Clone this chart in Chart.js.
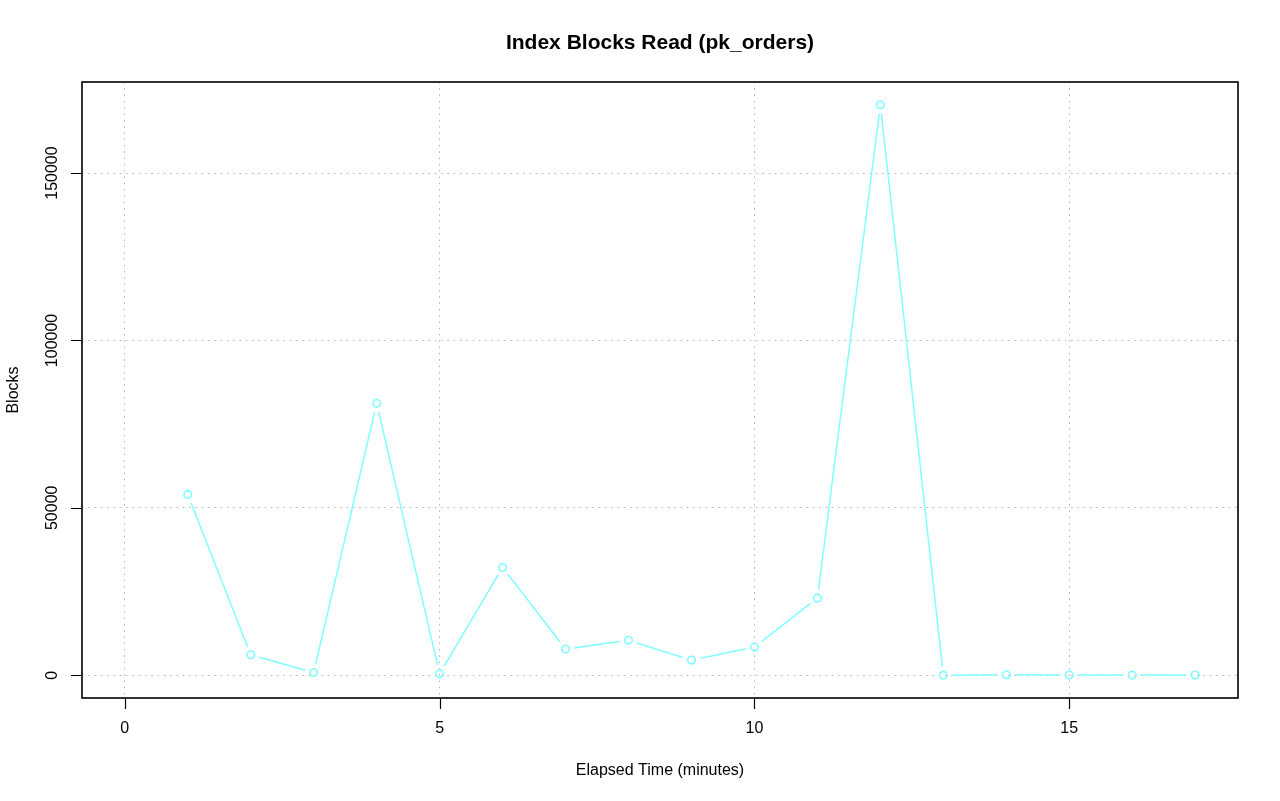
<!DOCTYPE html>
<html>
<head>
<meta charset="utf-8">
<title>Index Blocks Read (pk_orders)</title>
<script src="https://cdn.jsdelivr.net/npm/chart.js@4/dist/chart.umd.min.js"></script>
<style>
  html, body { margin: 0; padding: 0; background: #fff; }
  canvas { display: block; }
</style>
</head>
<body>
<canvas id="blocksChart" width="1280" height="801"></canvas>
<script>
// data
const elapsedMinutes = [1, 2, 3, 4, 5, 6, 7, 8, 9, 10, 11, 12, 13, 14, 15, 16, 17];
const blocksRead = [54000, 6100, 800, 81200, 400, 32200, 7800, 10400, 4500, 8400, 23000, 170400, 0, 100, 50, 40, 60];
const xTickValues = [0, 5, 10, 15];
const yTickValues = [0, 50000, 100000, 150000];
const chartTitle = 'Index Blocks Read (pk_orders)';

const lineColor = '#7fffff';
const gridColor = '#b4b4b4';
const fontFamily = '"Liberation Sans", Arial, Helvetica, sans-serif';

Chart.defaults.font.family = fontFamily;
Chart.defaults.font.size = 16;
Chart.defaults.color = '#000';

const points = elapsedMinutes.map((m, i) => ({ x: m, y: blocksRead[i] }));

// type="b" look: leave a gap in the line around every point
const lineGaps = {
    id: 'lineGaps',
    beforeDatasetDraw(chart, args) {
        if (args.index !== 0)
            return;
        const ctx = chart.ctx;
        ctx.save();
        ctx.beginPath();
        ctx.rect(0, 0, chart.width, chart.height);
        args.meta.data.forEach((p) => {
            ctx.moveTo(p.x + 9, p.y);
            ctx.arc(p.x, p.y, 9, 0, Math.PI * 2, true);
        });
        ctx.clip('evenodd');
    },
    afterDatasetDraw(chart, args) {
        if (args.index === 0)
            chart.ctx.restore();
    },
};

// box round the plot region, outward tick marks, title centred on the plot
const plotFrame = {
    id: 'plotFrame',
    afterDatasetsDraw(chart) {
        const { ctx, chartArea: a, scales } = chart;
        ctx.save();
        ctx.strokeStyle = '#000';
        ctx.lineWidth = 1.6;
        ctx.strokeRect(a.left, a.top, a.right - a.left, a.bottom - a.top);

        ctx.lineWidth = 1.2;
        ctx.beginPath();
        xTickValues.forEach((v) => {
            const px = Math.round(scales.x.getPixelForValue(v)) + 0.5;
            ctx.moveTo(px, a.bottom);
            ctx.lineTo(px, a.bottom + 11);
        });
        yTickValues.forEach((v) => {
            const py = Math.round(scales.y.getPixelForValue(v)) + 0.5;
            ctx.moveTo(a.left, py);
            ctx.lineTo(a.left - 11, py);
        });
        ctx.stroke();

        ctx.fillStyle = '#000';
        ctx.font = 'bold 21px ' + fontFamily;
        ctx.textAlign = 'center';
        ctx.textBaseline = 'middle';
        ctx.fillText(chartTitle, (a.left + a.right) / 2, 43);
        ctx.restore();
    },
};

const ctx = document.getElementById('blocksChart').getContext('2d');
new Chart(ctx, {
    type: 'line',
    data: {
        datasets: [
            {
                data: points,
                borderColor: lineColor,
                borderWidth: 1.5,
                pointRadius: 0,
                pointHoverRadius: 0,
                tension: 0,
            },
            {
                data: points,
                showLine: false,
                pointRadius: 3.8,
                pointBorderWidth: 1.6,
                pointBorderColor: lineColor,
                pointBackgroundColor: 'rgba(0,0,0,0)',
            },
        ],
    },
    options: {
        responsive: false,
        animation: false,
        layout: { padding: { top: 82, right: 42 } },
        plugins: {
            legend: { display: false },
            tooltip: { enabled: false },
            title: { display: false },
        },
        scales: {
            x: {
                type: 'linear',
                min: -0.68,
                max: 17.68,
                afterBuildTicks: (scale) => {
                    scale.ticks = xTickValues.map((v) => ({ value: v }));
                },
                afterFit: (scale) => {
                    scale.height = 103;
                },
                ticks: {
                    autoSkip: false,
                    maxRotation: 0,
                    padding: 11,
                    callback: (v) => String(v),
                },
                grid: {
                    color: gridColor,
                    lineWidth: 1,
                    tickLength: 10,
                    tickColor: 'rgba(0,0,0,0)',
                },
                border: { display: false, dash: [1.5, 4.8] },
                title: {
                    display: true,
                    text: 'Elapsed Time (minutes)',
                    padding: { bottom: 21 },
                },
            },
            y: {
                type: 'linear',
                min: -6815,
                max: 177200,
                afterBuildTicks: (scale) => {
                    scale.ticks = yTickValues.map((v) => ({ value: v }));
                },
                afterFit: (scale) => {
                    scale.width = 82;
                },
                ticks: {
                    autoSkip: false,
                    minRotation: 90,
                    maxRotation: 90,
                    crossAlign: 'center',
                    padding: -7,
                    callback: (v) => String(v),
                },
                grid: {
                    color: gridColor,
                    lineWidth: 1,
                    tickLength: 10,
                    tickColor: 'rgba(0,0,0,0)',
                },
                border: { display: false, dash: [1.5, 4.8] },
                title: {
                    display: true,
                    text: 'Blocks',
                    padding: { top: 4 },
                },
            },
        },
    },
    plugins: [lineGaps, plotFrame],
});
</script>
</body>
</html>
